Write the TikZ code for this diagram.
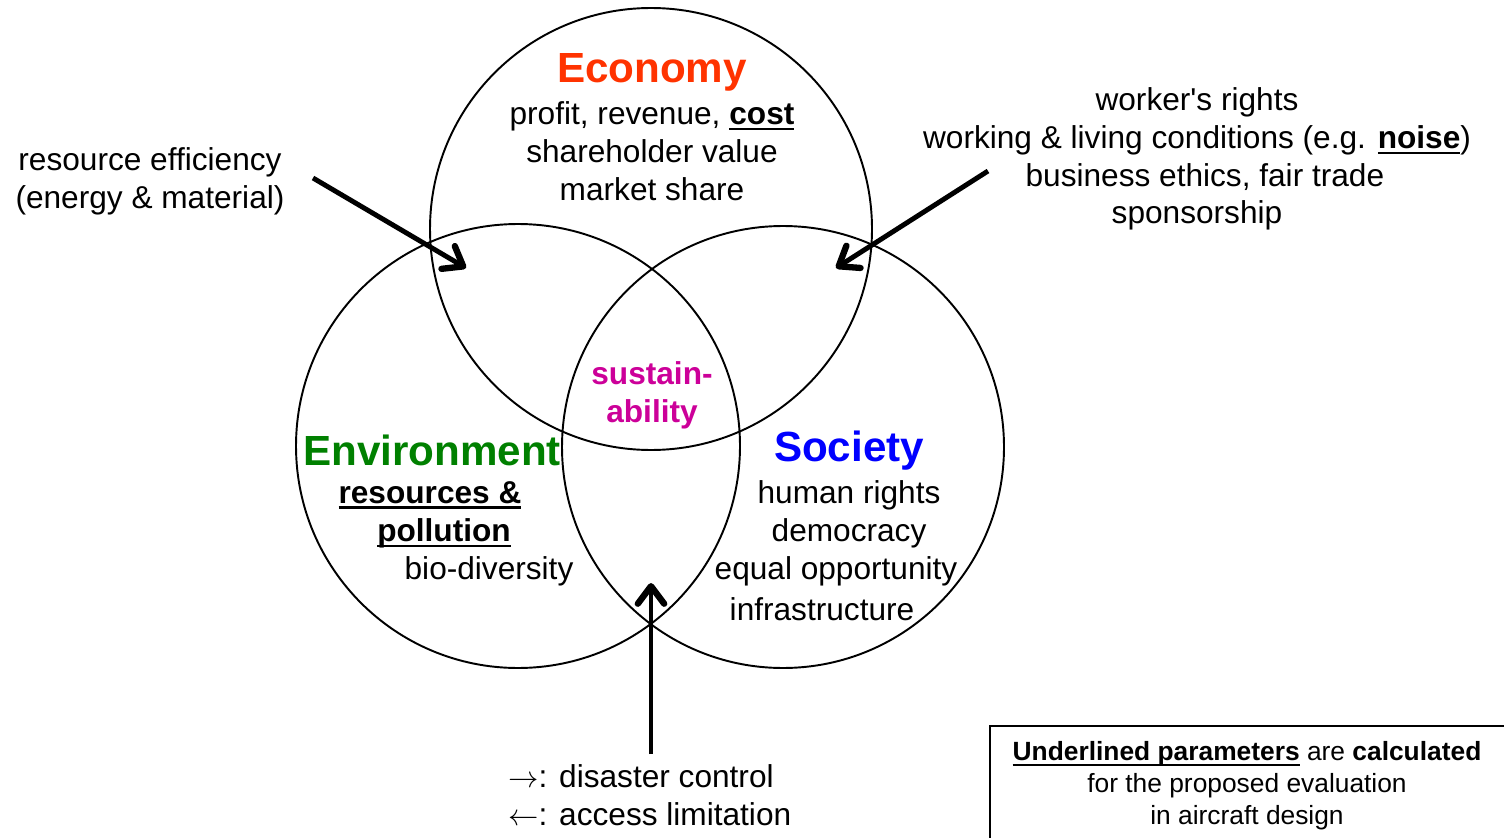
\documentclass[tikz,border=0pt]{standalone}
\usepackage{fontspec}
\setmainfont{Liberation Sans}
\usetikzlibrary{arrows.meta}
\definecolor{econ}{RGB}{255,51,0}
\definecolor{envi}{RGB}{0,128,0}
\definecolor{soci}{RGB}{0,0,255}
\definecolor{sust}{RGB}{204,0,153}
\newcommand\uln[1]{\leavevmode\setbox0=\hbox{#1}\rlap{\rule[-3.2pt]{\wd0}{1.3pt}}\box0\relax}
\tikzset{
  txt/.style={inner sep=0pt, align=center, font=\fontsize{18}{21.5}\selectfont},
  head/.style={inner sep=0pt, font=\fontsize{24}{28}\selectfont\bfseries},
  bigarrow/.style={line width=2.8pt, -{Straight Barb[length=10pt,width=15pt,line width=0.8pt 1,round]}},
}
\begin{document}
\begin{tikzpicture}[x=0.02cm,y=-0.02cm]
  \clip (0,0) rectangle (1504,838);
  % the three circles
  \draw[line width=1.1pt] (651,229) circle (221);
  \draw[line width=1.1pt] (518,446) circle (222);
  \draw[line width=1.1pt] (783,447) circle (221);

  % economy
  \node[head,econ] (eco) at (652,72) {Economy};
  \node[txt] (ecotxt) at (652,151) {profit, revenue, \uln{\textbf{cost}}\\shareholder value\\market share};

  % environment
  \node[head,envi] (env) at (432,450) {Environment};
  \node[txt] (env1) at (430,495) {\uln{\textbf{resources \&}}};
  \node[txt] (env2) at (444,533) {\uln{\textbf{pollution}}};
  \node[txt] (env3) at (489,571) {bio-diversity};

  % society
  \node[head,soci] (soc) at (849,451) {Society};
  \node[txt] (soc1) at (849,495) {human rights};
  \node[txt] (soc2) at (849,533) {democracy};
  \node[txt] (soc3) at (836,571) {equal opportunity};
  \node[txt] (soc4) at (822,609) {infrastructure};

  % middle
  \node[txt,font=\fontsize{18}{21.5}\selectfont\bfseries,sust] (sus) at (652,395) {sustain-\\ability};

  % outside remarks
  \node[txt] (res) at (150,181) {resource efficiency\\(energy \& material)};
  \node[txt] (work) at (1197,159) {worker\textquotesingle s rights\\working \& living conditions (e.g. \uln{\textbf{noise}})\\\hspace*{9pt}business ethics, fair trade\\sponsorship};
  \node[txt,align=left,anchor=west] (dis) at (508,795) {$\rightarrow$: disaster control\\$\leftarrow$: access limitation};

  \coordinate (resA) at (313,178);
  \coordinate (resB) at (466,268);
  \coordinate (workA) at (988,171);
  \coordinate (workB) at (836,268);
  \coordinate (disA) at (651,754);
  \coordinate (disB) at (651,583);
  \draw[bigarrow] (resA) -- (resB);
  \draw[bigarrow] (workA) -- (workB);
  \draw[bigarrow] (disA) -- (disB);

  % note box
  \draw[line width=0.9pt] (990,726) rectangle (1530,860);
  \node[txt,font=\fontsize{15}{18.2}\selectfont] (note) at (1247,786) {\uln{\textbf{Underlined parameters}} are \textbf{calculated}\\for the proposed evaluation\\in aircraft design};
\end{tikzpicture}
\end{document}
